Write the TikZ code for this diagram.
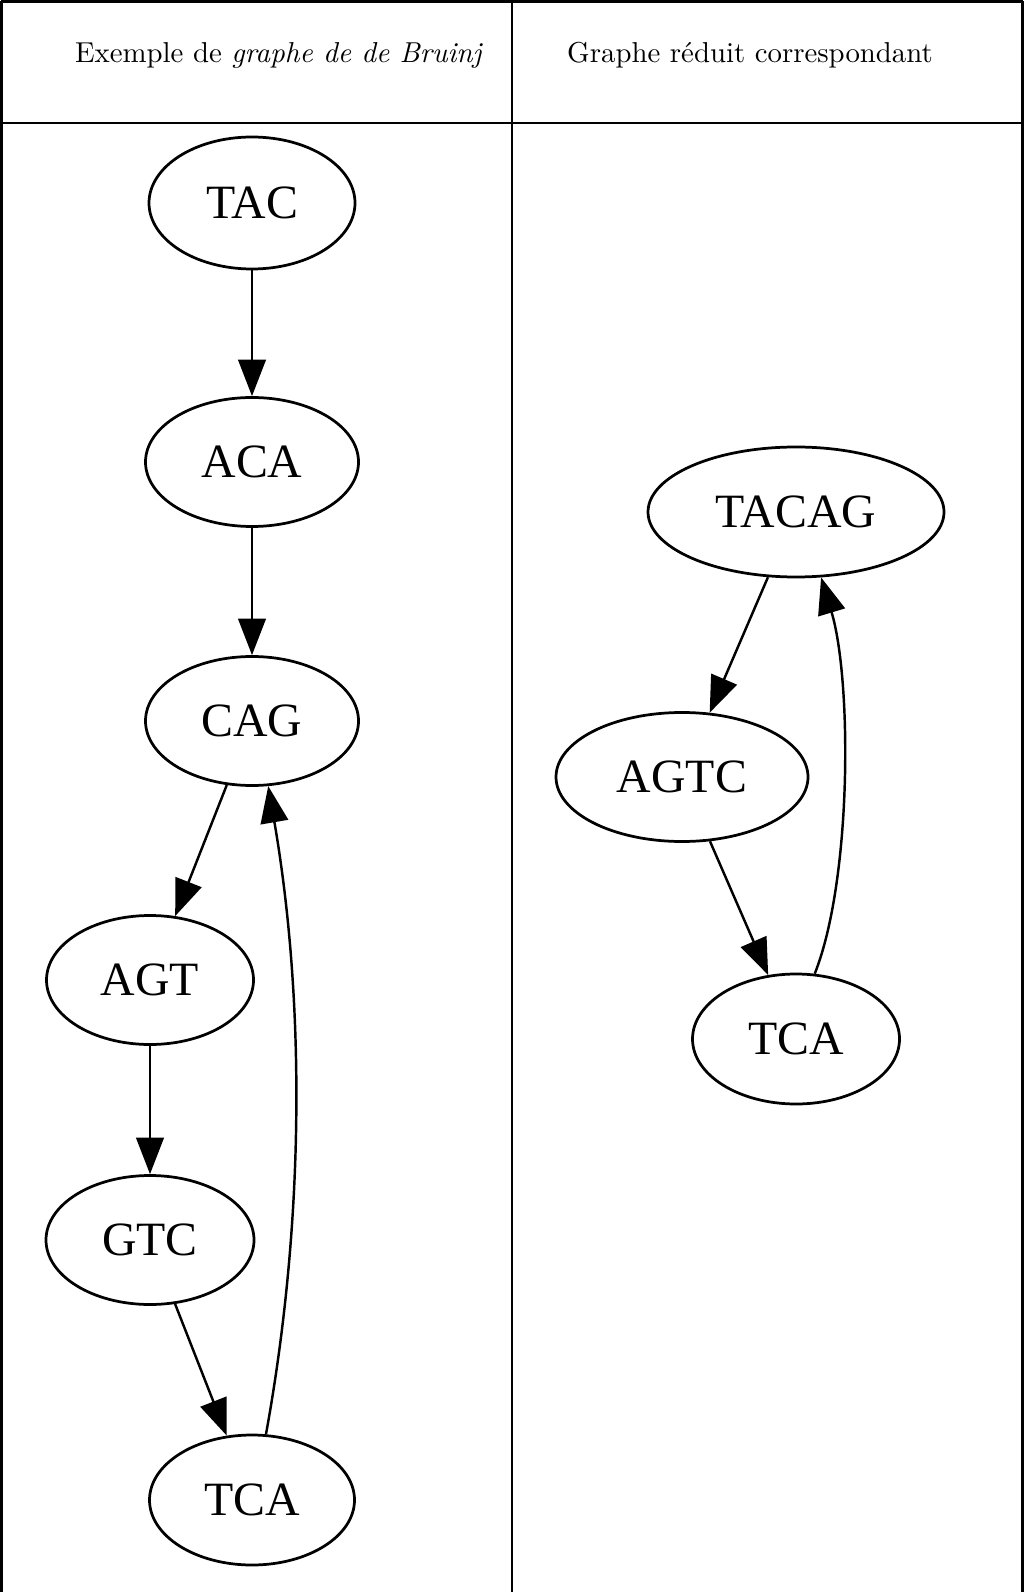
\documentclass[tikz,border=0pt]{standalone}
\usepackage{fontspec}
\newfontfamily\tms{Liberation Serif}
\usetikzlibrary{shapes.geometric,arrows.meta}
\def\myu{0.3472pt}
\begin{document}
\begin{tikzpicture}[x=\myu,y=\myu,
  gnode/.style={draw,ellipse,line width=0.95pt,inner sep=0pt,font=\tms\fontsize{16.6}{19}\selectfont},
  gedge/.style={line width=0.85pt,-{Triangle[length=12.7pt,width=9.6pt]}},
  tline/.style={line width=0.85pt}]
\useasboundingbox (0,0) rectangle (1024,-1592);
% table
\coordinate (tl) at (1.5,-1.5);
\coordinate (tm) at (512,-1.5);
\coordinate (tr) at (1022.5,-1.5);
\coordinate (bl) at (1.5,-1592);
\coordinate (bm) at (512,-1592);
\coordinate (br) at (1022.5,-1592);
\coordinate (hl) at (1.5,-123);
\coordinate (hr) at (1022.5,-123);
\draw[tline] (tl) -- (tr);
\draw[tline] (hl) -- (hr);
\draw[tline] (tl) -- (bl);
\draw[tline] (tm) -- (bm);
\draw[tline] (tr) -- (br);
\node[anchor=base] (h1) at (279,-63) {Exemple de \emph{graphe de de Bruinj}};
\node[anchor=base] (h2) at (750,-63) {Graphe réduit correspondant};
% left graph
\node[gnode,minimum width=206*\myu,minimum height=132*\myu] (TAC) at (252,-203) {TAC};
\node[gnode,minimum width=213*\myu,minimum height=129*\myu] (ACA) at (252,-462) {ACA};
\node[gnode,minimum width=213*\myu,minimum height=129*\myu] (CAG) at (252,-721) {CAG};
\node[gnode,minimum width=207*\myu,minimum height=129*\myu] (AGT) at (150,-980) {AGT};
\node[gnode,minimum width=208*\myu,minimum height=129*\myu] (GTC) at (150,-1240) {GTC};
\node[gnode,minimum width=205*\myu,minimum height=130*\myu] (TCA) at (252,-1500) {TCA};
\draw[gedge] (TAC) -- (ACA);
\draw[gedge] (ACA) -- (CAG);
\draw[gedge] (CAG) -- (AGT);
\draw[gedge] (AGT) -- (GTC);
\draw[gedge] (GTC) -- (TCA);
\draw[gedge] (TCA.78) .. controls (305,-1220) and (305,-1000) .. (CAG.-76);
% right graph
\node[gnode,minimum width=296*\myu,minimum height=130*\myu] (TACAG) at (796,-512) {TACAG};
\node[gnode,minimum width=252*\myu,minimum height=129*\myu] (AGTC) at (682,-777) {AGTC};
\node[gnode,minimum width=207*\myu,minimum height=130*\myu] (TCAr) at (796,-1039) {TCA};
\draw[gedge] (TACAG) -- (AGTC);
\draw[gedge] (AGTC) -- (TCAr);
\draw[gedge] (TCAr.74) .. controls (852,-880) and (852,-680) .. (TACAG.-69);
\end{tikzpicture}
\end{document}
